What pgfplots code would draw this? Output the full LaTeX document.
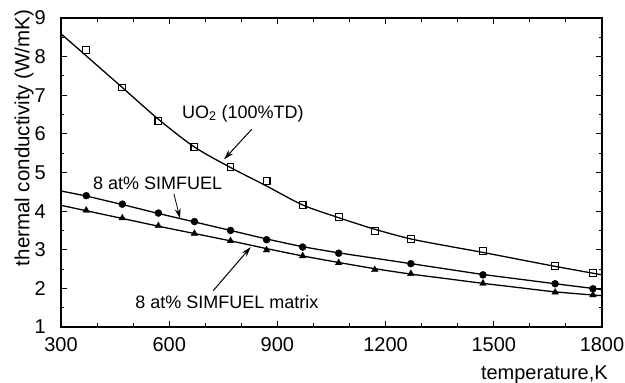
\documentclass[border=0pt]{standalone}
\usepackage{pgfplots}
\pgfplotsset{compat=1.18}
\usepackage{fontspec}
\setmainfont{Liberation Sans}
\usetikzlibrary{arrows.meta}

\pgfplotstableread{
x y
370 8.17
470 7.20
570 6.33
670 5.66
770 5.15
870 4.78
970 4.15
1070 3.85
1170 3.48
1270 3.27
1470 2.96
1670 2.58
1775 2.40
}\uotwo

\pgfplotstableread{
x y
370 4.40
470 4.18
570 3.95
670 3.73
770 3.50
870 3.26
970 3.07
1070 2.91
1270 2.64
1470 2.35
1670 2.12
1775 1.99
}\simfuel

\pgfplotstableread{
x y
370 4.02
470 3.82
570 3.62
670 3.42
770 3.23
870 2.99
970 2.84
1070 2.66
1170 2.48
1270 2.38
1470 2.13
1670 1.90
1775 1.83
}\matrixdata

\pgfplotstableread{
x y
300 8.59
370 8.02
470 7.20
570 6.38
670 5.66
770 5.13
870 4.65
970 4.16
1070 3.83
1170 3.53
1270 3.28
1370 3.10
1470 2.93
1570 2.75
1670 2.57
1800 2.35
}\uotwofit

\pgfplotstableread{
x y
300 4.52
370 4.39
470 4.17
570 3.94
670 3.72
770 3.50
870 3.28
970 3.08
1070 2.92
1170 2.78
1270 2.64
1370 2.50
1470 2.36
1570 2.24
1670 2.12
1800 1.97
}\simfuelfit

\pgfplotstableread{
x y
300 4.15
370 4.01
470 3.81
570 3.61
670 3.42
770 3.23
870 3.03
970 2.84
1070 2.67
1170 2.51
1270 2.37
1370 2.25
1470 2.13
1570 2.02
1670 1.91
1800 1.81
}\matrixfit

\begin{document}
\begin{tikzpicture}
\begin{axis}[
  at={(0,0)}, anchor=south west,
  scale only axis,
  width=541pt, height=309pt,
  xmin=300, xmax=1800, ymin=1, ymax=9,
  xtick={300,600,900,1200,1500,1800},
  ytick={1,2,3,4,5,6,7,8,9},
  minor x tick num=2,
  minor y tick num=1,
  tick align=inside,
  major tick length=6pt,
  minor tick length=3.5pt,
  every tick/.style={black, line width=1.1pt},
  axis line style={line width=1.9pt},
  tick label style={font=\fontsize{20}{22}\selectfont, inner sep=0pt},
  /pgf/number format/assume math mode=true,
  /pgf/number format/1000 sep={},
  yticklabel style={xshift=-15pt},
  xticklabel style={yshift=-10pt},
  xlabel={temperature,K},
  ylabel={thermal conductivity (W/mK)},
  every axis x label/.style={at={(axis description cs:1.011,-0.124)}, anchor=north east, inner sep=0pt, font=\fontsize{20}{22}\selectfont},
  every axis y label/.style={at={(axis description cs:-0.0683,0.612)}, anchor=center, rotate=90, inner sep=0pt, font=\fontsize{20.5}{22}\selectfont},
  clip=false,
]
\addplot[black, line width=1.3pt, smooth, tension=0.5] table[x=x,y=y] {\uotwofit};
\addplot[black, line width=1.3pt, smooth, tension=0.5] table[x=x,y=y] {\simfuelfit};
\addplot[black, line width=1.3pt, smooth, tension=0.5] table[x=x,y=y] {\matrixfit};
\addplot[only marks, mark=square, mark size=3.4pt, mark options={black, line width=1.1pt, fill=white}] table[x=x,y=y] {\uotwo};
\addplot[only marks, mark=*, mark size=3.5pt, mark options={black, fill=black}] table[x=x,y=y] {\simfuel};
\addplot[only marks, mark=triangle*, mark size=3.8pt, mark options={black, fill=black}] table[x=x,y=y] {\matrixdata};

\node[font=\fontsize{18}{20}\selectfont] at (axis cs:804,6.53) {UO\textsubscript{2} (100\%TD)};
\draw[-{Stealth[length=10pt,width=6pt]}, line width=1pt] (axis cs:829,6.12) -- (axis cs:752,5.34);
\node[font=\fontsize{18}{20}\selectfont] at (axis cs:568,4.73) {8 at\% SIMFUEL};
\draw[-{Stealth[length=10pt,width=6pt]}, line width=0.8pt] (axis cs:613,4.45) -- (axis cs:630,3.81);
\node[font=\fontsize{18}{20}\selectfont] at (axis cs:760,1.64) {8 at\% SIMFUEL matrix};
\draw[-{Stealth[length=10pt,width=6pt]}, line width=1pt] (axis cs:722,1.94) -- (axis cs:826,3.07);
\end{axis}
\pgfresetboundingbox
\path (-61pt,-56pt) rectangle (564pt,327pt);
\end{tikzpicture}
\end{document}
